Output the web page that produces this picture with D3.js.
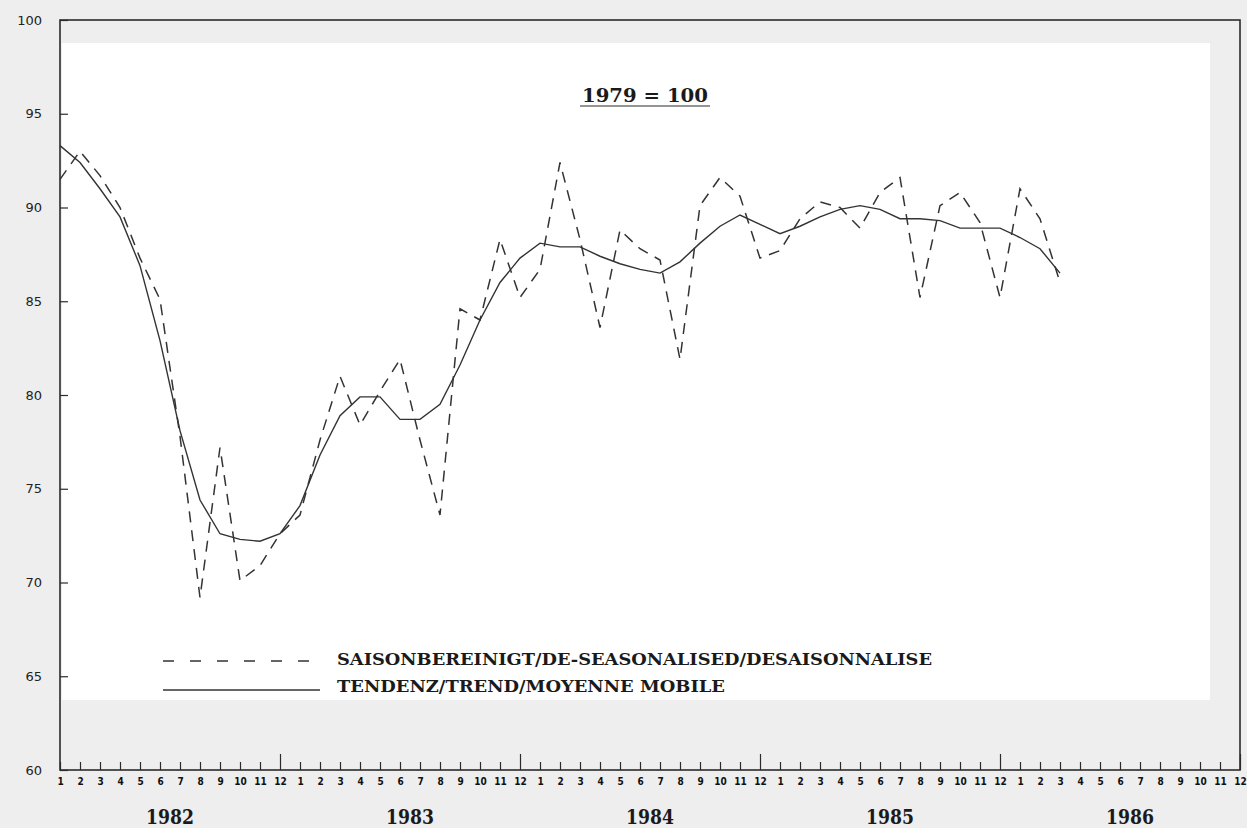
<!DOCTYPE html>
<html>
<head>
<meta charset="utf-8">
<script src="https://cdn.jsdelivr.net/npm/d3@7"></script>
<style>
  body { margin: 0; background: #eeeeee; }
  svg { display: block; }
</style>
</head>
<body>
<div id="chart"></div>
<script>
const years = ['1982', '1983', '1984', '1985', '1986']
const months = ['1', '2', '3', '4', '5', '6', '7', '8', '9', '10', '11', '12']
const yTicks = [60, 65, 70, 75, 80, 85, 90, 95, 100]

// monthly index 1979 = 100, Jan 1982 .. Mar 1986
const seasonal = [
  91.5, 93.0, 91.7, 90.0, 87.3, 85.1, 77.8, 69.2, 77.2, 70.1, 70.9, 72.6,
  73.6, 77.6, 81.0, 78.4, 80.2, 81.9, 77.6, 73.6, 84.6, 84.0, 88.3, 85.2,
  86.7, 92.4, 88.3, 83.6, 88.8, 87.8, 87.2, 81.9, 90.1, 91.6, 90.6, 87.3,
  87.7, 89.4, 90.3, 90.0, 88.9, 90.8, 91.6, 85.2, 90.1, 90.8, 89.2, 85.2,
  91.0, 89.4, 86.0
]
const trend = [
  93.3, 92.4, 91.0, 89.5, 86.9, 82.9, 78.1, 74.4, 72.6, 72.3, 72.2, 72.6,
  74.1, 76.8, 78.9, 79.9, 79.9, 78.7, 78.7, 79.5, 81.6, 84.0, 86.0, 87.3,
  88.1, 87.9, 87.9, 87.4, 87.0, 86.7, 86.5, 87.1, 88.1, 89.0, 89.6, 89.1,
  88.6, 89.0, 89.5, 89.9, 90.1, 89.9, 89.4, 89.4, 89.3, 88.9, 88.9, 88.9,
  88.4, 87.8, 86.5
]
const title = '1979 = 100'
const legendLabels = ['SAISONBEREINIGT/DE-SEASONALISED/DESAISONNALISE', 'TENDENZ/TREND/MOYENNE MOBILE']

const width = 1247, height = 828
const margin = { top: 20, right: 7, bottom: 58, left: 60 }
const ink = '#2b2b2b'
const slab = "'DejaVu Serif', serif"

const svg = d3.select('#chart')
  .append('svg')
  .attr('width', width)
  .attr('height', height)

const x = d3.scaleLinear()
  .domain([0, years.length * months.length - 1])
  .range([margin.left, width - margin.right])

const y = d3.scaleLinear()
  .domain([60, 100])
  .range([height - margin.bottom, margin.top])

// paper area inside the frame
svg.append('rect')
  .attr('x', margin.left + 2)
  .attr('y', 43)
  .attr('width', 1148)
  .attr('height', 657)
  .attr('fill', '#ffffff')

// frame
svg.append('rect')
  .attr('x', x(0))
  .attr('y', y(100))
  .attr('width', x(59) - x(0))
  .attr('height', y(60) - y(100))
  .attr('fill', 'none')
  .attr('stroke', ink)
  .attr('stroke-width', 1.6)

// y axis
const yAxis = svg.append('g')
  .attr('transform', `translate(${margin.left},0)`)
  .call(d3.axisLeft(y).tickValues(yTicks).tickSize(-8).tickPadding(18).tickSizeOuter(0))
yAxis.select('.domain').remove()
yAxis.selectAll('line').attr('stroke', ink).attr('stroke-width', 1.2)
yAxis.selectAll('text')
  .attr('fill', '#222')
  .style('font-family', "'DejaVu Sans', sans-serif")
  .style('font-size', '13px')

// x axis, one tick per month, longer tick at year end
const xAxis = svg.append('g')
  .attr('transform', `translate(0,${y(60)})`)
  .call(d3.axisBottom(x)
    .tickValues(d3.range(years.length * months.length))
    .tickFormat(i => months[i % 12])
    .tickSize(-8)
    .tickPadding(8)
    .tickSizeOuter(0))
xAxis.select('.domain').remove()
xAxis.selectAll('.tick line')
  .attr('stroke', ink)
  .attr('stroke-width', 1.2)
  .attr('y2', i => (i % 12 === 11 ? -16 : -8))
xAxis.selectAll('text')
  .attr('fill', '#111')
  .style('font-family', "'DejaVu Sans Condensed', 'DejaVu Sans', sans-serif")
  .style('font-weight', 'bold')
  .style('font-size', '10px')

svg.selectAll('.year')
  .data(years)
  .join('text')
  .attr('class', 'year')
  .attr('x', (d, j) => (x(j * 12) + x(j * 12 + 11)) / 2)
  .attr('y', 824)
  .attr('text-anchor', 'middle')
  .attr('textLength', 48)
  .attr('lengthAdjust', 'spacingAndGlyphs')
  .style('font-family', slab)
  .style('font-weight', 'bold')
  .style('font-size', '21px')
  .attr('fill', '#1a1a1a')
  .text(d => d)

// series
const line = d3.line()
  .x((d, i) => x(i))
  .y(d => y(d))

svg.append('path')
  .datum(trend)
  .attr('d', line)
  .attr('fill', 'none')
  .attr('stroke', '#333')
  .attr('stroke-width', 1.4)

svg.append('path')
  .datum(seasonal)
  .attr('d', line)
  .attr('fill', 'none')
  .attr('stroke', '#333')
  .attr('stroke-width', 1.5)
  .attr('stroke-dasharray', '11,8')

// title
svg.append('text')
  .attr('x', 645)
  .attr('y', 102)
  .attr('text-anchor', 'middle')
  .attr('textLength', 126)
  .attr('lengthAdjust', 'spacingAndGlyphs')
  .style('font-family', slab)
  .style('font-weight', 'bold')
  .style('font-size', '18px')
  .attr('fill', '#1a1a1a')
  .text(title)
svg.append('line')
  .attr('x1', 580).attr('x2', 710)
  .attr('y1', 106).attr('y2', 106)
  .attr('stroke', ink)
  .attr('stroke-width', 1.2)

// legend
const legend = svg.append('g')
legend.selectAll('line')
  .data(legendLabels)
  .join('line')
  .attr('x1', 163)
  .attr('x2', 320)
  .attr('y1', (d, i) => 661 + i * 29)
  .attr('y2', (d, i) => 661 + i * 29)
  .attr('stroke', '#333')
  .attr('stroke-width', 1.5)
  .attr('stroke-dasharray', (d, i) => (i === 0 ? '11,16' : null))
legend.selectAll('text')
  .data(legendLabels)
  .join('text')
  .attr('x', 337)
  .attr('y', (d, i) => 665 + i * 27)
  .attr('textLength', (d, i) => (i === 0 ? 595 : 388))
  .attr('lengthAdjust', 'spacingAndGlyphs')
  .style('font-family', slab)
  .style('font-weight', 'bold')
  .style('font-size', '17px')
  .attr('fill', '#1a1a1a')
  .text(d => d)
</script>
</body>
</html>
